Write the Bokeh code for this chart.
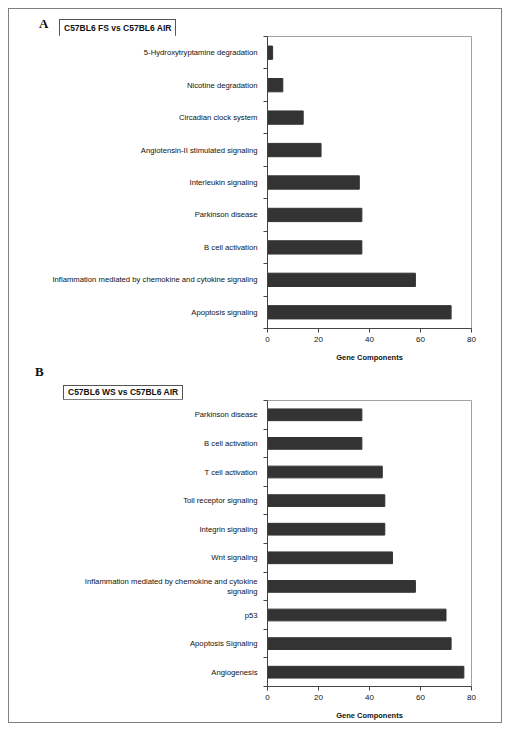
from bokeh.plotting import figure
from bokeh.models import FixedTicker, Range1d, ColumnDataSource, Div
from bokeh.layouts import column
from bokeh.embed import file_html
from bokeh.resources import INLINE

# ---- data ----
cats_a = ["Apoptosis signaling",
          "Inflammation mediated by chemokine and cytokine signaling",
          "B cell activation",
          "Parkinson disease",
          "Interleukin signaling",
          "Angiotensin-II stimulated signaling",
          "Circadian clock system",
          "Nicotine degradation",
          "5-Hydroxytryptamine degradation"]
vals_a = [72, 58, 37, 37, 36, 21, 14, 6, 2]

cats_b = ["Angiogenesis",
          "Apoptosis Signaling",
          "p53",
          "Inflammation mediated by chemokine and cytokine\nsignaling",
          "Wnt signaling",
          "Integrin signaling",
          "Toll receptor signaling",
          "T cell activation",
          "B cell activation",
          "Parkinson disease"]
vals_b = [77, 72, 70, 58, 49, 46, 46, 45, 37, 37]

x_ticks = [0, 20, 40, 60, 80]
x_label = "Gene Components"
title_a = "C57BL6 FS vs C57BL6 AIR"
title_b = "C57BL6 WS vs C57BL6 AIR"

FONT = "Liberation Sans"
BAR = "#333333"
W = 492


def panel(cats, vals, h, bl, br, bt, bb):
    n = len(cats)
    ys = [i + 0.5 for i in range(n)]
    p = figure(width=W, height=h, x_range=Range1d(0, 80), y_range=Range1d(0, n),
               output_backend="svg", toolbar_location=None,
               min_border_left=bl, min_border_right=br,
               min_border_top=bt, min_border_bottom=bb)
    src = ColumnDataSource(dict(y=ys, v=vals))
    p.hbar(y="y", right="v", left=0, height=0.41, source=src,
           fill_color=BAR, line_color=BAR)
    p.grid.visible = False
    p.outline_line_color = "#a0a0a0"
    p.border_fill_color = "white"

    xa = p.xaxis[0]
    xa.ticker = FixedTicker(ticks=x_ticks, minor_ticks=[])
    xa.major_tick_out = 4
    xa.major_tick_in = 0
    xa.minor_tick_out = 0
    xa.axis_line_color = "#444444"
    xa.major_tick_line_color = "#444444"
    xa.major_label_text_font = FONT
    xa.major_label_text_font_size = "8px"
    xa.major_label_text_color = "#111111"
    xa.major_label_standoff = 4
    xa.axis_label = x_label
    xa.axis_label_text_font = FONT
    xa.axis_label_text_font_size = "7.5px"
    xa.axis_label_text_font_style = "bold"
    xa.axis_label_text_color = "#111111"
    xa.axis_label_standoff = 8

    ya = p.yaxis[0]
    ya.ticker = FixedTicker(ticks=ys, minor_ticks=list(range(n + 1)))
    ya.major_label_overrides = {y: c for y, c in zip(ys, cats)}
    ya.major_tick_out = 0
    ya.major_tick_in = 0
    ya.minor_tick_out = 4
    ya.minor_tick_in = 0
    ya.minor_tick_line_color = "#444444"
    ya.axis_line_color = "#444444"
    ya.major_label_text_font = FONT
    ya.major_label_text_font_size = "7.7px"
    ya.major_label_text_color = "#111111"
    ya.major_label_standoff = 6
    return p


def header(letter, title, h, lx, ly, bx, by, bh, pad):
    html = (
        f'<div style="position:relative;width:{W}px;height:{h}px;">'
        f'<span style="position:absolute;left:{lx}px;top:{ly}px;'
        f'font-family:\'Liberation Serif\';font-weight:bold;font-size:13px;'
        f'line-height:13px;color:#111;">{letter}</span>'
        f'<span style="position:absolute;left:{bx}px;top:{by}px;height:{bh}px;'
        f'box-sizing:border-box;border:1px solid #555;background:white;'
        f'padding:{pad}px 4px;font-family:\'Liberation Sans\';font-weight:bold;'
        f'font-size:8.5px;line-height:{bh - 2 - 2 * pad}px;color:#111;'
        f'white-space:nowrap;">{title}</span></div>'
    )
    return Div(text=html, width=W, height=h, margin=0)


ha = header("A", title_a, 26, 30, 8, 50, 10, 18, 3)
pa = panel(cats_a, vals_a, 329, 255, 30, 1, 35)
hb = header("B", title_b, 35, 26, 1, 54, 21, 15, 2)
pb = panel(cats_b, vals_b, 323, 258, 20, 1, 36)

layout = column(ha, pa, hb, pb, margin=(8, 0, 0, 8), spacing=0,
                styles={"border": "1px solid #808080"})

open("out.html", "w").write(file_html(layout, INLINE))
